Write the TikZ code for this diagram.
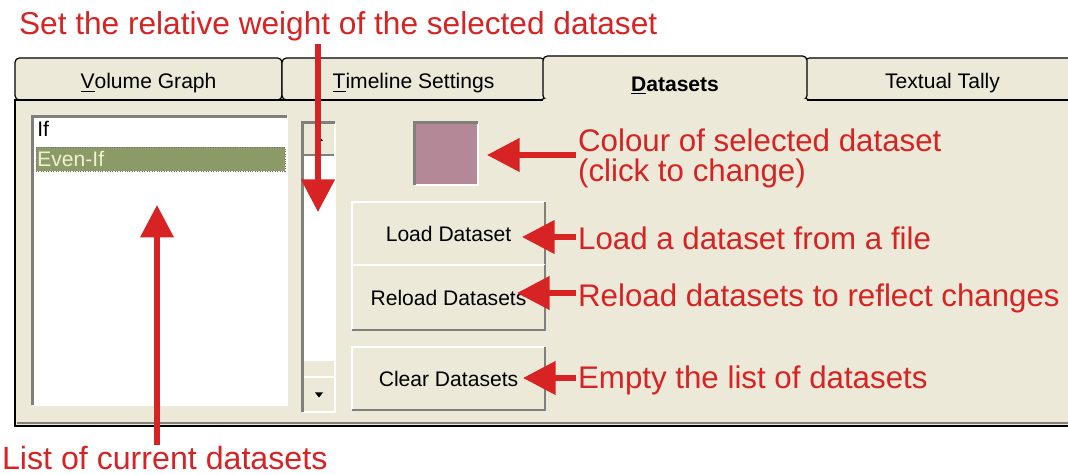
\documentclass[tikz,border=0pt]{standalone}
\usepackage{fontspec}
\setmainfont{Liberation Sans}
\usetikzlibrary{arrows.meta,positioning}
\definecolor{panelbg}{RGB}{236,233,216}
\definecolor{annored}{RGB}{215,35,35}
\definecolor{selbg}{RGB}{140,154,104}
\definecolor{selfg}{RGB}{238,240,210}
\definecolor{swatchcol}{RGB}{180,136,150}
\definecolor{bevel}{RGB}{128,128,122}
\newcommand{\uifont}{\fontsize{12}{14}\selectfont}

\begin{document}
\begin{tikzpicture}[
  x=0.02cm,y=-0.02cm,
  note/.style={text=annored,font=\fontsize{17.8}{17}\selectfont,inner sep=1pt},
  tab/.style={draw=black,line width=0.7pt,fill=panelbg,rounded corners=2.5pt,minimum height=0.84cm,inner sep=0pt,text height=12pt,text depth=1pt,font=\uifont},
  btn/.style={fill=panelbg,inner sep=0pt,font=\uifont},
  well/.style={fill=white,inner sep=0pt},
  item/.style={anchor=west,inner sep=0pt,font=\uifont},
  pointer/.style={draw=annored,line width=3.2pt,-{Triangle[length=18.5pt,width=18.5pt]}}
]
  \useasboundingbox[fill=white] (0,0) rectangle (1068,475);

  % tab strip
  \node[tab,minimum width=5.34cm] (voltab) at (148.5,79) {\underline{V}olume Graph};
  \node[tab,minimum width=5.26cm] (timetab) at (413.5,79) {\underline{T}imeline Settings};
  \node[tab,minimum width=5.5cm] (tallytab) at (942.5,79) {Textual Tally};
  \node[tab,minimum width=5.28cm,minimum height=0.88cm,text height=15pt,text depth=0pt,font=\uifont\bfseries] (datatab) at (675,78) {\underline{D}atasets};

  % panel
  \fill[panelbg] (15,100) rectangle (1080,426);
  \draw[line width=0.8pt] (543,100) -- (15,100) -- (15,426) -- (1080,426);
  \draw[line width=0.8pt] (807,100) -- (1080,100);
  \draw[bevel,line width=1.2pt] (17,423) -- (1080,423);
  \fill[panelbg] ([shift={(1.5,-1.5)}]datatab.south west) rectangle ([shift={(-1.5,3)}]datatab.south east);

  % list of datasets
  \node[well,minimum width=5.08cm,minimum height=5.76cm] (listbox) at (160,261) {};
  \node[fill=selbg,draw=black!55,densely dotted,inner sep=0pt,minimum width=4.98cm,minimum height=0.48cm] (evenrow) at (160.5,159) {};
  \node[item] (iftxt) at (37,129) {If};
  \node[item,text=selfg] (eventxt) at (37,159) {Even-If};

  % weight slider
  \node[well,minimum width=0.64cm,minimum height=5.78cm] (track) at (319,267.5) {};
  \node[btn,minimum width=0.64cm,minimum height=0.64cm] (upbtn) at (319,139) {};
  \node[btn,minimum width=0.64cm,minimum height=0.34cm] (thumb) at (319,368.5) {};
  \node[btn,minimum width=0.64cm,minimum height=0.70cm] (downbtn) at (319,394.5) {};
  \fill ([shift={(0,-3)}]upbtn.center) -- ([shift={(4,2)}]upbtn.center) -- ([shift={(-4,2)}]upbtn.center) -- cycle;
  \fill ([shift={(0,3)}]downbtn.center) -- ([shift={(4,-2)}]downbtn.center) -- ([shift={(-4,-2)}]downbtn.center) -- cycle;

  % colour and buttons
  \node[fill=swatchcol,inner sep=0pt,minimum width=1.26cm,minimum height=1.24cm] (swatch) at (446.5,154) {};
  \node[btn,minimum width=3.86cm,minimum height=1.26cm] (loadbtn) at (448.5,233.5) {Load Dataset};
  \node[btn,minimum width=3.86cm,minimum height=1.30cm] (reloadbtn) at (448.5,297.5) {Reload Datasets};
  \node[btn,minimum width=3.86cm,minimum height=1.26cm] (clearbtn) at (448.5,378.5) {Clear Datasets};

  \foreach \w in {upbtn,thumb,downbtn,loadbtn,reloadbtn,clearbtn}{
    \draw[white,line width=1.2pt] (\w.south west) |- (\w.north east);
    \draw[bevel,line width=1.2pt] (\w.south west) -| (\w.north east);
  }
  \foreach \w in {listbox,track,swatch}{
    \draw[white,line width=1.2pt] (\w.south west) -| (\w.north east);
    \draw[bevel,line width=1.6pt] (\w.south west) |- (\w.north east);
  }

  % annotations
  \node[note,anchor=base west,font=\fontsize{18}{18}\selectfont] (weightlbl) at (17,35) {Set the relative weight of the selected dataset};
  \node[note,anchor=base west,font=\fontsize{18.3}{18}\selectfont] (listlbl) at (0,470) {List of current datasets};
  \node[note,anchor=west,align=left] (colourlbl) at (576,158) {Colour of selected dataset\\(click to change)};
  \node[note,anchor=base west] (loadlbl) at (576,250) {Load a dataset from a file};
  \node[note,anchor=base west] (reloadlbl) at (576,307) {Reload datasets to reflect changes};
  \node[note,anchor=base west] (clearlbl) at (576,389) {Empty the list of datasets};

  \coordinate (weighttip) at (318,212);
  \coordinate (listtip) at (157,205);
  \coordinate (colourtip) at (487,155);
  \coordinate (loadtip) at (522,237);
  \coordinate (reloadtip) at (517,293);
  \coordinate (cleartip) at (523,378);

  \draw[pointer] (weightlbl.south -| weighttip) -- (weighttip);
  \draw[pointer] (listlbl.north -| listtip) -- (listtip);
  \draw[pointer] (colourlbl.west |- colourtip) -- (colourtip);
  \draw[pointer] (loadlbl.west |- loadtip) -- (loadtip);
  \draw[pointer] (reloadlbl.west |- reloadtip) -- (reloadtip);
  \draw[pointer] (clearlbl.west |- cleartip) -- (cleartip);
\end{tikzpicture}
\end{document}
